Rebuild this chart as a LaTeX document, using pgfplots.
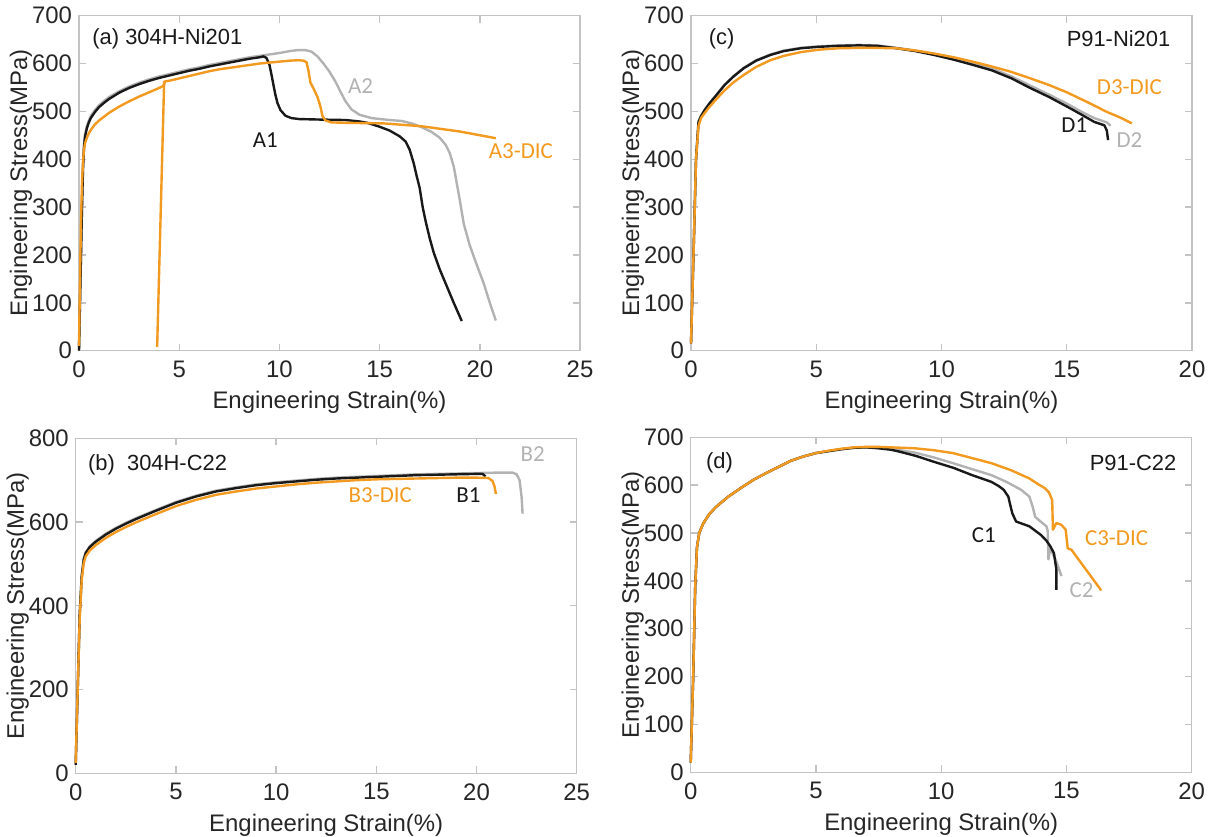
\documentclass[border=0pt]{standalone}
\usepackage{fontspec}
\setmainfont{Liberation Sans}
\newfontfamily\calfont{Carlito}
\usepackage{pgfplots}
\pgfplotsset{compat=1.18}
\definecolor{axgray}{RGB}{195,195,195}
\definecolor{txtgray}{RGB}{38,38,38}
\definecolor{cblack}{RGB}{25,25,25}
\definecolor{cgray}{RGB}{178,178,178}
\definecolor{corange}{RGB}{242,153,31}
\tikzset{
  bl/.style={cblack, line width=1.2bp, line join=round},
  gr/.style={cgray, line width=1.2bp, line join=round},
  og/.style={corange, line width=1.2bp, line join=round},
  lab/.style={font=\calfont\fontsize{11.5}{13}\selectfont},
  ttl/.style={font=\fontsize{11}{13}\selectfont, text=cblack, inner sep=0pt},
}
\pgfplotsset{
  panel/.style={
    scale only axis, width=250.5bp, height=167.5bp, anchor=south west,
    axis line style={draw=axgray, line width=0.7pt},
    tick style={draw=axgray, line width=0.7pt},
    major tick length=3.5bp, tick align=inside,
    xtick pos=both, ytick pos=both,
    ticklabel style={font=\fontsize{12}{14}\selectfont, text=txtgray},
    /pgf/number format/assume math mode=true,
    xticklabel style={yshift=-1.5bp},
    xlabel={Engineering Strain(\%)}, ylabel={Engineering Stress(MPa)},
    every axis x label/.style={at={(axis description cs:0.5,-0.155)}, anchor=center, font=\fontsize{12}{14}\selectfont, text=txtgray},
    every axis y label/.style={at={(axis description cs:-0.116,0.5)}, anchor=center, rotate=90, font=\fontsize{12}{14}\selectfont, text=txtgray},
    scaled ticks=false, clip=false,
  },
}
\begin{document}
\begin{tikzpicture}
\path[use as bounding box] (0bp,0bp) rectangle (604.5bp,418.5bp);
% (a)
\begin{axis}[panel, at={(39.5bp,243.15bp)}, xmin=0, xmax=25, ymin=0, ymax=700, xtick={0,5,...,25}, ytick={0,100,...,700}]
\addplot[gr] coordinates {(0,0) (0.05,100) (0.1,200) (0.15,300) (0.2,385) (0.25,430) (0.3,452) (0.4,470) (0.5,482) (0.6,491) (0.8,503) (1,513) (1.25,522) (1.5,530) (2,542) (2.5,552) (3,560) (3.5,567) (4,573) (4.5,578) (5,583) (5.5,588) (6,592) (6.5,597) (7,601) (7.5,605) (8,609) (8.5,613) (9,616) (9.5,619) (10,622) (10.5,626) (10.9,628) (11.3,628) (11.6,625) (11.9,615) (12.2,600) (12.5,583) (12.8,562) (13.0,545) (13.3,521) (13.6,504) (14,493) (14.6,486) (15.5,482) (16.1,480) (16.6,475) (17.1,467) (17.6,457) (18,445) (18.3,430) (18.5,413) (18.7,385) (18.85,350) (19.0,315) (19.2,265) (19.5,220) (19.8,185) (20.2,140) (20.5,100) (20.8,63)};
\addplot[bl] coordinates {(0,0) (0.05,100) (0.1,200) (0.15,300) (0.2,380) (0.25,425) (0.3,447) (0.4,466) (0.5,478) (0.6,487) (0.8,499) (1,509) (1.25,518) (1.5,526) (2,539) (2.5,549) (3,557) (3.5,564) (4,570) (4.5,575) (5,580) (5.5,585) (6,589) (6.5,594) (7,598) (7.5,602) (8,606) (8.5,610) (9,613) (9.2,615) (9.35,612) (9.5,598) (9.6,578) (9.7,556) (9.8,535) (9.9,518) (10.05,503) (10.3,491) (10.6,486) (11,484) (12,483) (13.3,482) (14,479) (14.4,476) (15,468) (15.5,460) (16,448) (16.3,437) (16.5,420) (16.7,392) (16.85,365) (17.0,340) (17.15,300) (17.3,270) (17.5,235) (17.7,205) (18,170) (18.3,140) (18.7,100) (19.1,62)};
\addplot[og] coordinates {(0,10) (0.05,150) (0.1,270) (0.15,350) (0.2,395) (0.25,420) (0.3,433) (0.4,446) (0.5,455) (0.6,462) (0.8,473) (1,481) (1.25,489) (1.5,497) (2,510) (2.5,521) (3,531) (3.5,540) (4,549) (4.2,553) (4.3,563) (4.5,564) (5,569) (5.5,574) (6,579) (6.5,584) (7,588) (7.5,591) (8,594) (8.5,597) (9,600) (9.5,602) (10,604) (10.5,606) (10.97,607) (11.2,606) (11.35,603) (11.45,585) (11.55,560) (11.7,548) (11.9,530) (12.05,510) (12.15,490) (12.3,481) (12.6,477) (13.5,476) (15.2,475) (17.1,469) (19.0,458) (20.8,444)};
\addplot[og] coordinates {(3.9,8) (4.25,563)};
\node[ttl, anchor=west] at (axis cs:0.65,652) {(a) 304H-Ni201};
\node[lab, text=cblack] at (axis cs:9.3,439) {A1};
\node[lab, text=cgray] at (axis cs:14.05,554) {A2};
\node[lab, text=corange] at (axis cs:22.05,418) {A3-DIC};
\end{axis}
% (c)
\begin{axis}[panel, at={(345.5bp,243.15bp)}, xmin=0, xmax=20, ymin=0, ymax=700, xtick={0,5,...,20}, ytick={0,100,...,700}]
\addplot[gr] coordinates {(0,15) (0.1,200) (0.2,400) (0.3,479) (0.4,491) (0.55,504) (0.73,517) (1,534) (1.34,556) (1.7,574) (2.1,591) (2.6,607) (3.17,619) (3.7,627) (4.39,633) (5.1,636) (5.9,638) (6.7,639) (7.43,638) (8.2,633) (8.96,627) (9.7,620) (10.5,611) (11.2,601) (12,590) (12.8,573) (13.5,555) (14.3,535) (15.05,515) (15.6,499) (16.1,486) (16.6,477) (16.75,470)};
\addplot[bl] coordinates {(0,15) (0.1,200) (0.2,400) (0.3,478) (0.4,490) (0.55,503) (0.73,516) (1,533) (1.34,555) (1.7,573) (2.1,590) (2.6,606) (3.17,618) (3.7,626) (4.39,632) (5.1,635) (5.9,637) (6.7,638) (7.43,637) (8.2,632) (8.96,626) (9.7,618) (10.5,608) (11.2,598) (12.0,586) (12.8,569) (13.5,550) (14.3,530) (15.05,509) (15.6,493) (16.1,478) (16.5,471) (16.6,460) (16.65,440)};
\addplot[og] coordinates {(0,15) (0.1,200) (0.2,400) (0.3,470) (0.4,486) (0.55,497) (0.73,509) (1,525) (1.34,544) (1.7,561) (2.1,576) (2.6,593) (3.17,607) (3.7,616) (4.39,624) (5.1,629) (5.9,632) (7,633) (8.2,632) (9,627) (9.7,621) (10.5,613) (11.24,604) (12,594) (12.76,583) (13.5,570) (14.3,555) (15,540) (15.8,520) (16.6,499) (17.1,488) (17.6,475)};
\node[ttl, anchor=west] at (axis cs:0.7,652) {(c)};
\node[ttl, anchor=east] at (axis cs:19.15,652) {P91-Ni201};
\node[lab, text=corange] at (axis cs:17.5,550) {D3-DIC};
\node[lab, text=cblack] at (axis cs:15.3,472) {D1};
\node[lab, text=cgray] at (axis cs:17.5,440) {D2};
\end{axis}
% (b)
\begin{axis}[panel, at={(37.85bp,31.85bp)}, xmin=0, xmax=25, ymin=0, ymax=800, xtick={0,5,...,25}, ytick={0,200,...,800}]
\addplot[gr] coordinates {(0,20) (0.1,200) (0.2,380) (0.3,472) (0.4,512) (0.5,528) (0.7,542) (1,555) (1.5,572) (2,586) (2.5,598) (3,609) (3.85,626) (5,648) (6,663) (7,675) (8,683) (9,690) (10,695) (11,699) (12,703) (13,706) (14,708) (15,710) (16,712) (17,714) (18,715) (19,716) (20,717) (21,718) (21.8,718) (22.0,714) (22.15,700) (22.25,660) (22.3,620)};
\addplot[bl] coordinates {(0,20) (0.1,200) (0.2,380) (0.3,470) (0.4,510) (0.5,526) (0.7,540) (1,553) (1.5,570) (2,584) (2.5,596) (3,607) (3.85,624) (5,646) (6,661) (7,673) (8,681) (9,688) (10,693) (11,697) (12,701) (13,704) (14,706) (15,708) (16,710) (17,712) (18,713) (19,714) (20,715) (20.3,715) (20.45,709)};
\addplot[og] coordinates {(0,25) (0.1,200) (0.2,370) (0.3,462) (0.4,502) (0.5,518) (0.7,532) (1,545) (1.5,562) (2,576) (2.5,588) (3,599) (3.85,616) (5,638) (6,653) (7,665) (8,673) (9,680) (10,685) (11,690) (12,694) (13,697) (14,700) (15,702) (16,703) (17,704) (18,705) (19,706) (20,706) (20.6,705) (20.8,698) (20.9,685) (20.97,667)};
\node[ttl, anchor=west] at (axis cs:0.6,736) {(b)\ \ 304H-C22};
\node[lab, text=cgray] at (axis cs:22.8,762) {B2};
\node[lab, text=corange] at (axis cs:15.2,664) {B3-DIC};
\node[lab, text=cblack] at (axis cs:19.6,664) {B1};
\end{axis}
% (d)
\begin{axis}[panel, at={(345.35bp,32.35bp)}, xmin=0, xmax=20, ymin=0, ymax=700, xtick={0,5,...,20}, ytick={0,100,...,700}]
\addplot[gr] coordinates {(0,20) (0.1,200) (0.18,388) (0.25,470) (0.34,500) (0.5,520) (0.75,540) (1,554) (1.5,576) (2,594) (2.5,611) (3,625) (3.5,638) (4,651) (4.5,660) (5,667) (5.5,671) (6,675) (6.5,678) (7,679) (7.5,678) (8,676) (8.95,668) (9.7,658) (10.47,646) (11.2,634) (12,621) (12.6,607) (13.2,590) (13.52,576) (13.65,555) (13.75,534) (13.9,527) (14.2,514) (14.25,505) (14.28,445) (14.35,468) (14.6,440) (14.8,410)};
\addplot[bl] coordinates {(0,20) (0.1,200) (0.18,388) (0.25,470) (0.34,500) (0.5,520) (0.75,540) (1,554) (1.5,576) (2,594) (2.5,611) (3,625) (3.5,638) (4,651) (4.5,660) (5,667) (5.5,671) (6,675) (6.5,678) (7,679) (7.5,677) (8,674) (8.34,670) (9,661) (9.7,649) (10.5,636) (11.23,621) (12,607) (12.3,598) (12.5,590) (12.68,576) (12.75,560) (12.84,541) (12.99,524) (13.52,514) (13.98,496) (14.2,484) (14.36,472) (14.5,458) (14.6,423) (14.6,381)};
\addplot[og] coordinates {(0,20) (0.1,200) (0.18,388) (0.25,470) (0.34,500) (0.5,520) (0.75,540) (1,554) (1.5,576) (2,594) (2.5,611) (3,625) (3.5,638) (4,651) (4.5,660) (5,667) (5.5,672) (6,676) (6.5,679) (7,680) (7.5,680) (8,679) (8.95,677) (9.7,673) (10.47,667) (11.2,657) (12,646) (12.8,631) (13.52,614) (13.9,601) (14.13,594) (14.3,585) (14.43,569) (14.46,507) (14.6,521) (14.8,517) (14.97,507) (15.05,468) (15.2,465) (16.39,380)};
\node[ttl, anchor=west] at (axis cs:0.6,646) {(d)};
\node[ttl, anchor=east] at (axis cs:19.4,646) {P91-C22};
\node[lab, text=cblack] at (axis cs:11.7,496) {C1};
\node[lab, text=corange] at (axis cs:17.0,489) {C3-DIC};
\node[lab, text=cgray] at (axis cs:15.6,381) {C2};
\end{axis}
\end{tikzpicture}
\end{document}
